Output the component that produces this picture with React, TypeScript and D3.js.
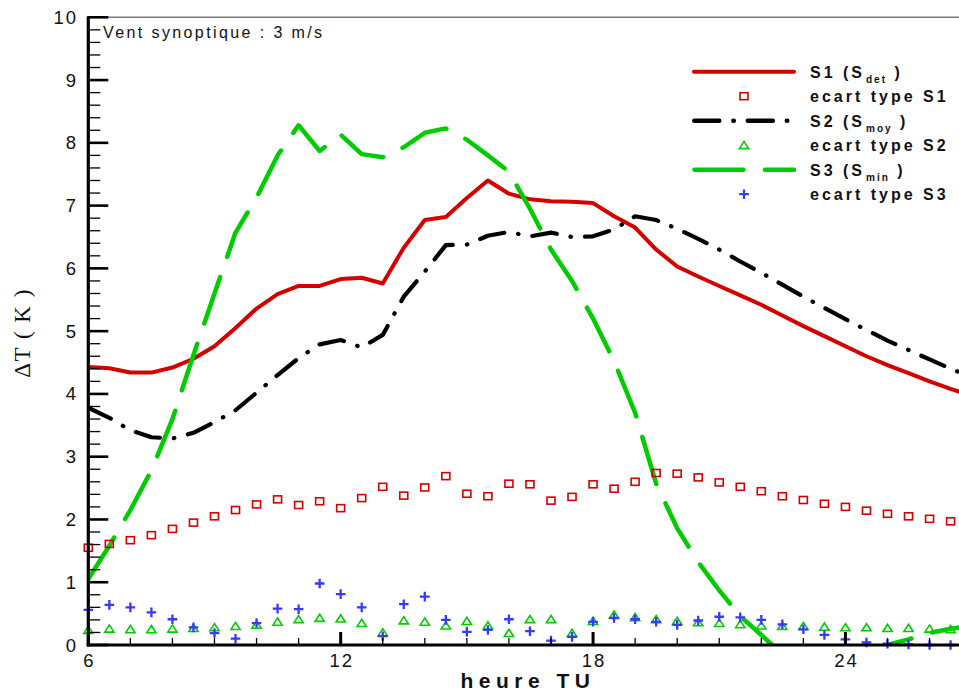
import React from "react";
import * as d3 from "d3";

// ---------- data ----------
const lineHours = [6, 6.5, 7, 7.5, 8, 8.5, 9, 9.5, 10, 10.5, 11, 11.5, 12, 12.5, 13, 13.5, 14, 14.5, 15, 15.5, 16, 16.5, 17, 17.5, 18, 18.5, 19, 19.5, 20, 20.5, 21, 21.5, 22, 22.5, 23, 23.5, 24, 24.5, 25, 25.5, 26, 26.5, 27];
const markerHours = [6, 6.5, 7, 7.5, 8, 8.5, 9, 9.5, 10, 10.5, 11, 11.5, 12, 12.5, 13, 13.5, 14, 14.5, 15, 15.5, 16, 16.5, 17, 17.5, 18, 18.5, 19, 19.5, 20, 20.5, 21, 21.5, 22, 22.5, 23, 23.5, 24, 24.5, 25, 25.5, 26, 26.5];

const s1Det = [4.43, 4.41, 4.34, 4.34, 4.42, 4.56, 4.76, 5.05, 5.36, 5.59, 5.72, 5.72, 5.83, 5.85, 5.76, 6.33, 6.77, 6.82, 7.12, 7.40, 7.19, 7.10, 7.07, 7.06, 7.04, 6.83, 6.65, 6.30, 6.03, 5.87, 5.72, 5.57, 5.42, 5.25, 5.08, 4.92, 4.76, 4.60, 4.46, 4.33, 4.20, 4.08, 3.97];
const s2Moy = [3.78, 3.62, 3.42, 3.31, 3.29, 3.38, 3.55, 3.74, 4.02, 4.30, 4.57, 4.79, 4.86, 4.74, 4.94, 5.55, 5.95, 6.37, 6.38, 6.52, 6.58, 6.51, 6.57, 6.50, 6.51, 6.62, 6.83, 6.77, 6.63, 6.47, 6.30, 6.11, 5.93, 5.74, 5.55, 5.37, 5.19, 5.02, 4.85, 4.70, 4.55, 4.40, 4.27];
const s3Min = [1.05, 1.58, 2.15, 2.78, 3.60, 4.62, 5.60, 6.57, 7.13, 7.80, 8.28, 7.87, 8.13, 7.82, 7.77, 7.93, 8.16, 8.23, 8.05, 7.80, 7.54, 6.95, 6.30, 5.80, 5.20, 4.52, 3.70, 2.57, 1.86, 1.32, 0.87, 0.46, 0.16, -0.15, -0.30, -0.38, -0.35, -0.22, 0.0, 0.09, 0.19, 0.26, 0.31];

const sdS1 = [1.55, 1.61, 1.67, 1.75, 1.85, 1.95, 2.05, 2.15, 2.24, 2.32, 2.23, 2.29, 2.18, 2.34, 2.52, 2.38, 2.51, 2.69, 2.41, 2.37, 2.57, 2.56, 2.30, 2.36, 2.56, 2.49, 2.60, 2.74, 2.73, 2.67, 2.59, 2.52, 2.45, 2.37, 2.31, 2.25, 2.20, 2.14, 2.09, 2.05, 2.01, 1.97];
const sdS2 = [0.24, 0.26, 0.25, 0.25, 0.26, 0.27, 0.28, 0.30, 0.32, 0.37, 0.41, 0.43, 0.42, 0.35, 0.20, 0.39, 0.37, 0.31, 0.38, 0.31, 0.19, 0.41, 0.41, 0.19, 0.38, 0.48, 0.44, 0.41, 0.38, 0.36, 0.35, 0.33, 0.31, 0.30, 0.30, 0.29, 0.28, 0.28, 0.27, 0.27, 0.26, 0.25];
const sdS3 = [0.56, 0.64, 0.60, 0.52, 0.41, 0.28, 0.19, 0.10, 0.35, 0.58, 0.57, 0.98, 0.81, 0.60, 0.14, 0.65, 0.77, 0.40, 0.21, 0.24, 0.41, 0.22, 0.07, 0.13, 0.37, 0.43, 0.41, 0.37, 0.32, 0.39, 0.45, 0.44, 0.40, 0.33, 0.25, 0.16, 0.09, 0.04, 0.02, 0.01, 0.0, 0.0];

const xTickLabels = [6, 12, 18, 24];
const yTickLabels = [0, 1, 2, 3, 4, 5, 6, 7, 8, 9, 10];

// ---------- layout ----------
const W = 959, H = 694;
const L = 88.3, R = 959, T = 17.3, B = 645;
const RED = "#d40000", GREEN = "#00cc00", BLUE = "#3838ff";
const SANS = "'Liberation Sans', Arial, Helvetica, sans-serif";
const SERIF = "'Liberation Serif', 'Times New Roman', serif";

const x = d3.scaleLinear().domain([6, 26.7]).range([L, R]);
const y = d3.scaleLinear().domain([0, 10]).range([B, T]);

const lineGen = d3
  .line<number>()
  .x((_, i) => x(lineHours[i]))
  .y((d) => y(d));

const xMinor = d3.range(7, 27, 1).filter((v) => v % 6 !== 0);
const yMinor = d3.range(0.2, 10, 0.2).filter((v) => Math.abs(v - Math.round(v)) > 0.01);

function Square({ cx, cy }: { cx: number; cy: number }) {
  return <rect x={cx - 4} y={cy - 3.5} width={8} height={7} fill="none" stroke={RED} strokeWidth={1.6} />;
}
function Tri({ cx, cy }: { cx: number; cy: number }) {
  const p = `M${cx - 4.6},${cy + 3.4}L${cx + 4.6},${cy + 3.4}L${cx},${cy - 3.8}Z`;
  return <path d={p} fill="none" stroke={GREEN} strokeWidth={1.6} />;
}
function Cross({ cx, cy }: { cx: number; cy: number }) {
  return (
    <path d={`M${cx - 4.8},${cy}H${cx + 4.8}M${cx},${cy - 4.8}V${cy + 4.8}`} stroke={BLUE} strokeWidth={2.3} />
  );
}

const legendRows = [71.7, 96.2, 120.7, 145.2, 169.7, 194.2];

export default function App() {
  const legTextX = 810;
  const legLabel = (main: string, sub: string | null, rowY: number, extra = "") => (
    <text x={legTextX} y={rowY + 6} fontFamily={SANS} fontWeight="bold" fontSize={16} letterSpacing={3} fill="#111">
      {sub ? (
        <>
          <tspan>{main}</tspan>
          <tspan fontSize={10} letterSpacing={2} dy={5} dx={1}>{sub}</tspan>
          <tspan dy={-5}>{extra + " )"}</tspan>
        </>
      ) : (
        main
      )}
    </text>
  );

  return (
    <svg width={W} height={H} style={{ position: "absolute", left: 0, top: 0, background: "#fff" }}>
      <defs>
        <clipPath id="plotClip">
          <rect x={L} y={T} width={R - L} height={B - T} />
        </clipPath>
      </defs>
      <rect x={0} y={0} width={W} height={H} fill="#fff" />

      {/* top frame */}
      <line x1={L} x2={R} y1={T} y2={T} stroke="#7a7a7a" strokeWidth={1.5} />

      {/* lines */}
      <g clipPath="url(#plotClip)" fill="none" strokeLinecap="round" strokeLinejoin="round">
        <path d={lineGen(s1Det) || ""} stroke={RED} strokeWidth={4} strokeLinecap="butt" />
        <path d={lineGen(s2Moy) || ""} stroke="#000" strokeWidth={4.2} strokeDasharray="25 14 0.5 14" />
        <path d={lineGen(s3Min) || ""} stroke={GREEN} strokeWidth={4.5} strokeDasharray="49 21.5" />
      </g>

      {/* markers */}
      <g>
        {sdS1.map((v, i) => (
          <Square key={"s" + i} cx={x(markerHours[i])} cy={y(v)} />
        ))}
        {sdS2.map((v, i) => (
          <Tri key={"t" + i} cx={x(markerHours[i])} cy={y(v)} />
        ))}
        {sdS3.map((v, i) => (
          <Cross key={"c" + i} cx={x(markerHours[i])} cy={y(v)} />
        ))}
      </g>

      {/* axes */}
      <g stroke="#000">
        {yMinor.map((v) => (
          <line key={"ym" + v} x1={L} x2={L + 12} y1={y(v)} y2={y(v)} strokeWidth={1.3} />
        ))}
        {yTickLabels.map((v) => (
          <line key={"yM" + v} x1={L} x2={L + 20} y1={y(v)} y2={y(v)} strokeWidth={2.6} />
        ))}
        {xMinor.map((v) => (
          <line key={"xm" + v} x1={x(v)} x2={x(v)} y1={B} y2={B - 7} strokeWidth={1.3} />
        ))}
        {xTickLabels.map((v) => (
          <line key={"xM" + v} x1={x(v)} x2={x(v)} y1={B} y2={B - 13} strokeWidth={3} />
        ))}
        <line x1={L} x2={L} y1={T - 1} y2={B + 1.5} strokeWidth={3.2} />
        <line x1={L - 1.5} x2={R} y1={B} y2={B} strokeWidth={3.2} />
      </g>

      {/* tick labels */}
      <g fontFamily={SANS} fontSize={18.5} fill="#111" letterSpacing={2}>
        {yTickLabels.map((v) => (
          <text key={"yl" + v} x={78} y={y(v)} textAnchor="end" dominantBaseline="central">
            {v}
          </text>
        ))}
        {xTickLabels.map((v) => (
          <text key={"xl" + v} x={x(v) + 1} y={667} textAnchor="middle">
            {v}
          </text>
        ))}
      </g>

      {/* axis titles */}
      <text x={528} y={688} textAnchor="middle" fontFamily={SANS} fontWeight="bold" fontSize={21} letterSpacing={5.5} fill="#111">
        heure TU
      </text>
      <text
        transform={`translate(30,333) rotate(-90)`}
        textAnchor="middle"
        fontFamily={SERIF}
        fontSize={23}
        letterSpacing={1.5}
        fill="#111"
      >
        ΔT ( K )
      </text>

      {/* annotation */}
      <text x={103} y={38} fontFamily={SANS} fontSize={16} letterSpacing={2.4} fill="#111">
        Vent synoptique : 3 m/s
      </text>

      {/* legend */}
      <g strokeLinecap="round">
        <line x1={694} x2={794} y1={legendRows[0]} y2={legendRows[0]} stroke={RED} strokeWidth={4} />
        <line x1={694.3} x2={792} y1={legendRows[2]} y2={legendRows[2]} stroke="#000" strokeWidth={4.5} strokeDasharray="25 14 0.5 14" />
        <line x1={694.5} x2={794} y1={legendRows[4]} y2={legendRows[4]} stroke={GREEN} strokeWidth={4.5} strokeDasharray="49 21.5" />
      </g>
      <Square cx={744} cy={legendRows[1]} />
      <Tri cx={744} cy={legendRows[3]} />
      <Cross cx={744} cy={legendRows[5]} />
      {legLabel("S1 (S", "det", legendRows[0])}
      {legLabel("ecart type S1", null, legendRows[1])}
      {legLabel("S2 (S", "moy", legendRows[2])}
      {legLabel("ecart type S2", null, legendRows[3])}
      {legLabel("S3 (S", "min", legendRows[4], " ")}
      {legLabel("ecart type S3", null, legendRows[5])}
    </svg>
  );
}
